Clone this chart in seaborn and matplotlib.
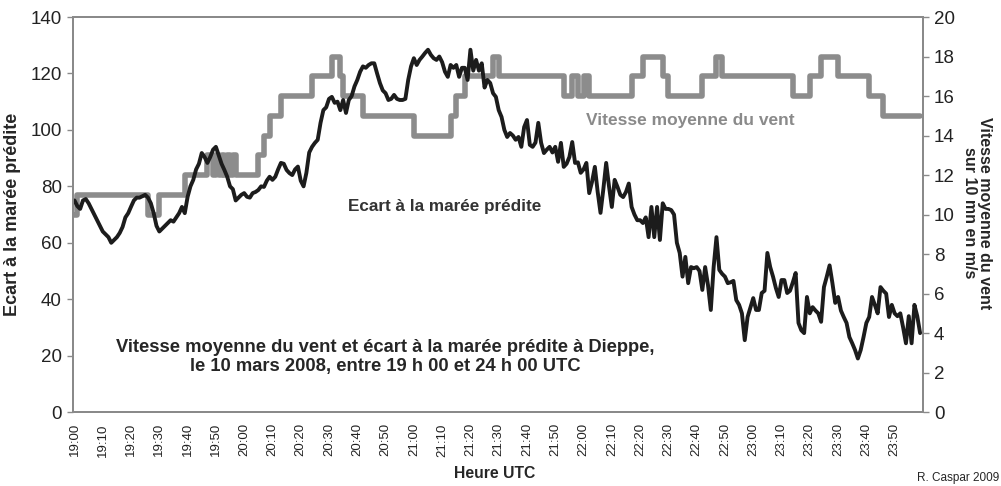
import matplotlib
matplotlib.use("Agg")
import matplotlib.pyplot as plt
import seaborn as sns

# minutes apres 19:00, une mesure par minute
minutes = list(range(300))

# ecart a la maree predite (cm)
ecart = [
    75, 73, 72, 75, 75.5, 74, 72, 70, 68, 66,
    64, 63, 62, 60, 61, 62, 63.5, 65.6, 69, 70.5,
    72.8, 75, 76, 76, 76.5, 77, 76, 74, 70.5, 66,
    64, 65, 66, 67, 68, 67.5, 69, 70.5, 72.7, 70.5,
    76.3, 80, 82.3, 86, 88, 91.8, 90.4, 88.3, 90.4, 93,
    94, 91, 88, 85.8, 83.4, 80, 79, 75, 76, 77,
    77.6, 76.3, 76, 77.6, 78, 78.7, 80, 79.8, 82, 83.4,
    82.3, 83.4, 86, 88.3, 88, 85.8, 84.7, 84, 86, 87,
    82, 80, 84.8, 92, 94, 95.4, 96.5, 102.5, 107, 108,
    111, 111.7, 109.6, 110, 107, 110.6, 106, 110.6, 112, 115.4,
    117.7, 120.6, 122.5, 122, 123, 123.6, 123.6, 120, 116.6, 114,
    113, 110.6, 111, 112.4, 111, 110.6, 110.6, 111, 117.7, 122.5,
    125.4, 123, 124.8, 126, 127.3, 128.4, 126.6, 125.4, 124.8, 126,
    124, 120.6, 118.8, 123, 122, 123, 118.8, 122, 122, 117.7,
    128.4, 121, 124.8, 121, 123.6, 115, 117.7, 116.6, 113, 111.7,
    107, 104.6, 100, 97.5, 98.9, 98, 96.5, 97.5, 94, 101,
    103.5, 94.7, 94, 95.5, 102.5, 95.4, 91.8, 93, 94, 92,
    94, 88.7, 95.4, 86.9, 88, 90.4, 95.7, 88.3, 88.5, 84.8,
    86, 88.3, 77.6, 81.6, 86.9, 78, 70.6, 79, 88.3, 80,
    72.7, 82.3, 79.8, 77, 76.2, 78, 81, 72.7, 70, 68,
    68, 67, 69, 62, 72.7, 62, 72.7, 61, 74, 72,
    72, 71.6, 70, 60, 56.4, 48, 55, 45.7, 51.4, 51,
    51.4, 50, 43.3, 51.4, 45, 36.2, 51.4, 62, 50.4, 49,
    48, 45.7, 46, 46.5, 39.7, 38, 35, 25.5, 33.7, 37,
    40.4, 36.2, 36.2, 42.2, 43, 56.4, 51.4, 48, 44, 40.8,
    46.8, 46.8, 42.2, 43, 46, 49.3, 31.6, 29, 28, 40.8,
    35, 37.2, 36, 35, 32, 44.3, 48, 52, 45.7, 38.7,
    40.8, 36, 33.7, 31.6, 26.6, 24.4, 22, 19, 22, 26.6,
    31.6, 33.7, 40.8, 38, 35, 44.3, 43, 42, 33.7, 38,
    35, 34, 35, 30, 24.4, 34, 24.4, 38, 34, 28,
]

# vitesse moyenne du vent (m/s) : minute du changement et nouvelle valeur
wind_min = [0, 1, 26, 30, 39, 47, 49, 50, 51, 52, 53, 54, 55, 56, 57, 65, 67, 69, 73,
            84, 91, 94, 95, 102, 120, 133, 135, 138, 148, 150, 173, 176, 178, 180, 182,
            197, 201, 208, 210, 222, 227, 229, 254, 260, 264, 270, 281, 286, 299]
wind_ms = [10, 11, 10, 11, 12, 13, 12, 13, 12, 13, 12, 13, 12, 13, 12, 13, 14, 15, 16,
           17, 18, 17, 16, 15, 14, 15, 16, 17, 18, 17, 16, 17, 16, 17, 16,
           17, 18, 17, 16, 17, 18, 17, 16, 17, 18, 17, 16, 15, 15]

tick_pos = list(range(0, 300, 10))
tick_labels = ["19:00", "19:10", "19:20", "19:30", "19:40", "19:50",
               "20:00", "20:10", "20:20", "20:30", "20:40", "20:50",
               "21:00", "21:10", "21:20", "21:30", "21:40", "21:50",
               "22:00", "22:10", "22:20", "22:30", "22:40", "22:50",
               "23:00", "23:10", "23:20", "23:30", "23:40", "23:50"]

sns.set_style("white")
plt.rcParams["font.family"] = ["Liberation Sans", "DejaVu Sans"]

fig, ax = plt.subplots(figsize=(10.01, 4.86), dpi=100)
fig.subplots_adjust(left=0.073, right=0.922, top=0.965, bottom=0.152)
ax2 = ax.twinx()

sns.lineplot(x=wind_min, y=wind_ms, ax=ax2, color="#8c8c8c", linewidth=4.0,
             drawstyle="steps-post", estimator=None)
sns.lineplot(x=minutes, y=ecart, ax=ax, color="#1c1c1c", linewidth=2.8, estimator=None)

# la courbe noire au-dessus de la grise
ax.set_zorder(ax2.get_zorder() + 1)
ax.patch.set_visible(False)

ax.set_xlim(-0.5, 300)
ax.set_ylim(0, 140)
ax.set_yticks(range(0, 141, 20))
ax2.set_ylim(0, 20)
ax2.set_yticks(range(0, 21, 2))
ax.set_xticks(tick_pos, tick_labels, rotation=90)
ax.set_xlabel("")
ax.set_ylabel("")
ax2.set_ylabel("")

for a in (ax, ax2):
    for sp in a.spines.values():
        sp.set_color("#8a8a8a")
        sp.set_linewidth(1.4)
    a.tick_params(colors="#8a8a8a", labelcolor="#222222", length=4, width=1)
ax.tick_params(axis="y", labelsize=13.5, pad=4)
ax2.tick_params(axis="y", labelsize=13.5, pad=4)
ax.tick_params(axis="x", labelsize=9.5, pad=4)

fig.text(13 / 1001, 1 - 214 / 486, "Ecart à la marée prédite", rotation=90,
         ha="center", va="center", fontsize=13, fontweight="bold")
fig.text(977 / 1001, 1 - 213 / 486, "Vitesse moyenne du vent\nsur 10 mn en m/s", rotation=-90,
         ha="center", va="center", fontsize=11.5, fontweight="bold", multialignment="center",
         linespacing=1.0)
fig.text(495 / 1001, 1 - 473 / 486, "Heure UTC", ha="center", va="center",
         fontsize=11.3, fontweight="bold")
fig.text(958 / 1001, 1 - 478 / 486, "R. Caspar 2009", ha="center", va="center", fontsize=8.5)

fig.text(385 / 1001, 1 - 357 / 486,
         "Vitesse moyenne du vent et écart à la marée prédite à Dieppe,\n"
         "le 10 mars 2008, entre 19 h 00 et 24 h 00 UTC",
         ha="center", va="center", fontsize=13.2, fontweight="bold", linespacing=1.2)
fig.text(445 / 1001, 1 - 207 / 486, "Ecart à la marée prédite", ha="center", va="center",
         fontsize=12.3, fontweight="bold", color="#333333")
fig.text(690 / 1001, 1 - 120 / 486, "Vitesse moyenne du vent", ha="center", va="center",
         fontsize=12.5, fontweight="bold", color="#8a8a8a")

fig.savefig("out.png", dpi=100)
